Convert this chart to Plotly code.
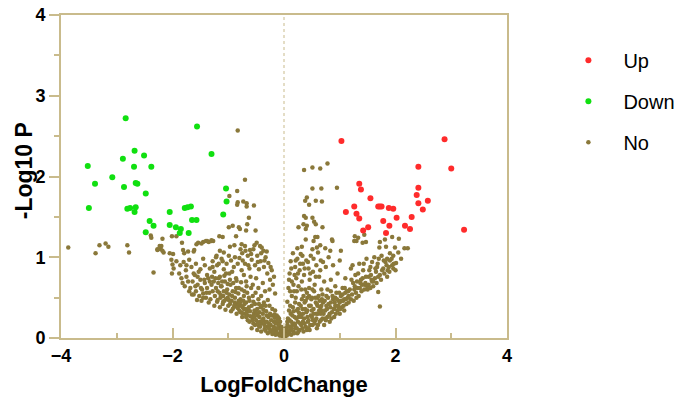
import plotly.graph_objects as go

# Up-regulated genes
up_x = [1.03, 2.88, 2.41, 3.00, 1.35, 1.38, 1.55, 2.41, 2.38, 2.58,
        2.41, 2.49, 1.26, 1.11, 1.30, 1.35, 1.69, 1.72, 1.75, 1.88,
        1.96, 1.78, 1.89, 2.02, 2.17, 2.26, 2.29, 1.83, 1.42, 1.51, 3.23]
up_y = [2.44, 2.46, 2.12, 2.10, 1.91, 1.84, 1.73, 1.86, 1.77, 1.70,
        1.67, 1.59, 1.63, 1.56, 1.54, 1.48, 1.63, 1.63, 1.63, 1.61,
        1.60, 1.45, 1.39, 1.49, 1.39, 1.35, 1.50, 1.30, 1.33, 1.37, 1.34]

# Down-regulated genes
down_x = [-3.52, -3.39, -3.50, -3.08, -2.84, -2.89, -2.87, -2.68, -2.69, -2.66,
          -2.63, -2.81, -2.76, -2.66, -2.68, -2.51, -2.48, -2.48, -2.38, -2.41,
          -2.34, -2.05, -2.05, -1.94, -1.85, -1.87, -1.78, -1.73, -1.67, -1.65,
          -1.57, -1.71, -1.56, -1.30, -1.04, -1.03, -1.09]
down_y = [2.13, 1.91, 1.61, 1.99, 2.72, 2.22, 1.87, 2.32, 2.12, 1.92,
          1.91, 1.60, 1.61, 1.62, 1.56, 2.26, 1.79, 1.31, 2.12, 1.45,
          1.39, 1.56, 1.40, 1.37, 1.35, 1.30, 1.61, 1.62, 1.63, 1.46,
          1.46, 1.30, 2.62, 2.28, 1.85, 1.69, 1.53]

# Not significant genes
no_x = [
    # left outliers / sparse
    -3.87, -3.31, -3.20, -3.15, -3.38, -2.81, -2.78, -2.34, -2.39, -2.38,
    -2.18, -2.27, -2.21, -2.20, -2.16, -0.83, -0.70, -0.84, -0.98, -0.83,
    -0.73, -0.67, -0.84, -0.67, -0.54, -0.63, -0.66, -0.81, -0.79, -0.99,
    -0.92, -0.68, -0.51, -0.86, -1.16, -1.30, -1.27, -1.38, -1.45, -1.54,
    -1.57, -1.48, -1.83, -2.01, -1.93, -2.23, -2.27, -2.18, -2.05, -1.99,
    -1.81, -1.79, -1.72, -1.61, -0.97, -0.89, -0.76, -0.70, -0.61, -0.49,
    -0.43, -0.37, -1.15, -1.08, -1.21, -1.40, -1.35, -1.30, -1.62, -1.10,
    # left upper band
    -2.02, -2.00, -1.98, -2.01, -1.93, -1.86, -1.80, -1.76, -1.70, -1.66,
    -1.62, -1.58, -1.55, -1.50, -1.45, -1.42, -1.38, -1.33, -1.28, -1.25,
    -1.20, -1.15, -1.12, -1.08, -1.03, -0.98, -0.95, -0.90, -0.86, -0.80,
    -0.75, -0.70, -0.65, -0.62, -0.58, -0.55, -0.52, -0.48, -0.45, -0.42,
    -0.40, -0.36, -0.33, -0.30, -0.28, -0.25, -0.22, -0.20, -0.18, -0.76,
    -0.72, -0.68, -0.60, -0.56, -0.50, -0.46, -0.38, -0.34, -0.26, -0.16,
    # left dense arm
    -1.58, -1.55, -1.52, -1.50, -1.47, -1.45, -1.42, -1.40, -1.38, -1.36,
    -1.34, -1.32, -1.30, -1.28, -1.26, -1.24, -1.22, -1.20, -1.18, -1.16,
    -1.14, -1.12, -1.10, -1.08, -1.06, -1.04, -1.02, -1.00, -0.98, -0.96,
    -0.94, -0.92, -0.90, -0.88, -0.86, -0.84, -0.82, -0.80, -0.78, -0.76,
    -0.74, -0.72, -0.70, -0.68, -0.66, -0.64, -0.62, -0.60, -0.58, -0.56,
    -0.54, -0.52, -0.50, -0.48, -0.46, -0.44, -0.42, -0.40, -0.38, -0.36,
    -0.34, -0.32, -0.30, -0.28, -0.26, -0.24, -0.22, -0.20, -0.18, -0.16,
    -0.14, -0.12, -0.10, -0.08, -0.06, -0.04, -0.02, -0.11, -0.07, -0.05,
    -1.48, -1.25, -1.05, -0.85, -0.65, -0.45, -0.25, -0.15, -0.35, -0.55,
    -0.75, -0.95, -1.15, -1.35, -1.62, -1.68, -1.72, -1.78, -1.84, -1.60,
    -0.58, -0.52, -0.48, -0.43, -0.41, -0.37, -0.33, -0.31, -0.29, -0.27,
    -0.23, -0.21, -0.19, -0.17, -0.15, -0.13, -0.09, -0.03, -0.01, -0.06,
    -0.62, -0.68, -0.72, -0.78, -0.82, -0.88, -0.92, -0.97, -1.01, -1.07,
    -0.44, -0.39, -0.47, -0.53, -0.57, -0.63, -0.67, -0.71, -0.77, -0.81,
    # left core, extra
    -1.19, -1.17, -1.13, -1.11, -1.09, -1.07, -1.03, -1.01, -0.99, -0.97,
    -0.93, -0.91, -0.89, -0.87, -0.85, -0.83, -0.81, -0.79, -0.77, -0.75,
    -0.73, -0.71, -0.69, -0.67, -0.65, -0.63, -0.61, -0.59, -0.57, -0.55,
    -0.53, -0.51, -0.49, -0.47, -0.45, -0.43, -0.41, -0.39, -0.37, -0.35,
    -0.33, -0.31, -0.29, -0.27, -0.25, -0.23, -0.21, -0.19, -0.17, -0.15,
    -0.13, -0.11, -0.09, -0.07, -0.05, -0.03, -0.02, -0.04, -0.08, -0.12,
    -1.28, -1.22, -1.17, -1.10, -1.04, -0.99, -0.93, -0.88, -0.83, -0.78,
    -0.74, -0.69, -0.64, -0.59, -0.53, -0.47, -0.41, -0.35, -0.31, -0.24,
    -1.88, -1.82, -1.75, -1.70, -1.64, -1.59, -1.53, -1.49, -1.43, -1.39,
    -1.33, -1.29, -1.23, -1.19, -1.13, -1.09, -1.45, -1.65, -1.75, -1.56,
    # right sparse / upper
    0.36, 0.51, 0.65, 0.78, 0.51, 0.67, 0.95, 0.41, 0.38, 0.45,
    0.57, 0.68, 0.36, 0.39, 0.35, 0.41, 0.39, 0.26, 0.51, 0.54,
    0.57, 0.69, 0.56, 0.60, 0.53, 0.65, 0.59, 0.51, 0.39, 0.32,
    0.24, 0.86, 0.87, 0.74, 0.83, 1.02, 1.27, 1.30, 1.26, 1.41,
    1.47, 1.44, 1.33, 1.72, 1.71, 1.83, 1.99, 2.06, 1.94, 2.16,
    2.22, 2.01, 1.72, 1.69, 1.81, 1.96, 1.90, 2.10, 2.05, 1.85,
    # right inner arm
    0.08, 0.10, 0.12, 0.14, 0.16, 0.18, 0.20, 0.22, 0.24, 0.26,
    0.28, 0.30, 0.32, 0.34, 0.36, 0.38, 0.40, 0.42, 0.44, 0.46,
    0.48, 0.50, 0.52, 0.55, 0.58, 0.60, 0.63, 0.66, 0.68, 0.72,
    0.75, 0.78, 0.80, 0.84, 0.88, 0.92, 0.96, 1.00, 0.14, 0.06,
    # right outer arm
    1.05, 1.10, 1.15, 1.20, 1.24, 1.28, 1.32, 1.35, 1.38, 1.42,
    1.45, 1.48, 1.52, 1.55, 1.58, 1.62, 1.65, 1.68, 1.72, 1.75,
    1.78, 1.82, 1.86, 1.90, 1.94, 2.00, 1.30, 1.50, 1.60, 1.85,
    # right dense body
    0.02, 0.04, 0.05, 0.07, 0.08, 0.10, 0.11, 0.12, 0.13, 0.15,
    0.16, 0.17, 0.19, 0.20, 0.21, 0.23, 0.24, 0.25, 0.27, 0.28,
    0.29, 0.31, 0.32, 0.33, 0.35, 0.36, 0.37, 0.39, 0.40, 0.41,
    0.43, 0.45, 0.46, 0.48, 0.49, 0.51, 0.53, 0.54, 0.56, 0.57,
    0.59, 0.61, 0.62, 0.64, 0.65, 0.67, 0.69, 0.70, 0.72, 0.74,
    0.76, 0.78, 0.80, 0.82, 0.84, 0.86, 0.88, 0.90, 0.92, 0.94,
    0.96, 0.98, 1.00, 1.02, 1.04, 1.06, 1.08, 1.10, 1.12, 1.14,
    1.16, 1.18, 1.20, 1.22, 1.25, 1.27, 1.29, 1.31, 1.34, 1.36,
    1.39, 1.41, 1.44, 1.46, 1.49, 1.52, 1.55, 1.57, 1.60, 1.63,
    1.66, 1.69, 1.74, 1.80, 1.88, 1.96, 0.03, 0.06, 0.09, 0.18,
    0.26, 0.34, 0.42, 0.50, 0.58, 0.66, 0.74, 0.82, 0.90, 0.98,
    0.44, 0.52, 0.60, 0.68, 0.76, 0.84, 0.92, 1.00, 1.08, 1.16,
    # right core, extra
    0.01, 0.03, 0.05, 0.06, 0.07, 0.09, 0.10, 0.11, 0.13, 0.14,
    0.15, 0.17, 0.18, 0.20, 0.21, 0.22, 0.23, 0.25, 0.26, 0.27,
    0.29, 0.30, 0.31, 0.33, 0.34, 0.35, 0.37, 0.38, 0.39, 0.41,
    0.42, 0.44, 0.45, 0.47, 0.48, 0.50, 0.51, 0.53, 0.55, 0.56,
    0.58, 0.59, 0.61, 0.63, 0.64, 0.66, 0.67, 0.69, 0.71, 0.73,
    0.75, 0.77, 0.79, 0.81, 0.83, 0.85, 0.87, 0.89, 0.91, 0.93,
    0.95, 0.97, 0.99, 1.01, 1.03, 1.05, 1.07, 1.09, 1.11, 1.13,
    0.09, 0.13, 0.17, 0.21, 0.25, 0.29, 0.33, 0.37, 0.43, 0.47,
    0.53, 0.57, 0.61, 0.65, 0.70, 0.31, 0.23, 0.19, 0.11, 0.45,
    1.21, 1.26, 1.33, 1.37, 1.43, 1.47, 1.53, 1.58, 1.64, 1.70,
    1.76, 1.79, 1.84, 1.89, 1.93, 1.97, 1.23, 1.40, 1.56, 1.67,
]
no_y = [
    1.12, 1.15, 1.17, 1.13, 1.05, 1.15, 1.06, 0.81, 1.27, 1.24,
    1.23, 1.10, 1.10, 1.14, 1.06, 2.57, 1.96, 1.82, 1.76, 1.68,
    1.69, 1.67, 1.65, 1.63, 1.64, 1.49, 1.41, 1.37, 1.35, 1.37,
    1.39, 1.33, 1.33, 1.26, 1.26, 1.21, 1.20, 1.20, 1.19, 1.18,
    1.16, 1.17, 1.18, 1.26, 1.26, 1.14, 1.09, 1.08, 1.05, 1.04,
    1.09, 1.05, 1.07, 1.09, 1.13, 1.15, 1.16, 1.14, 1.09, 1.18,
    1.14, 1.08, 1.08, 1.06, 1.02, 1.20, 1.19, 1.20, 1.07, 1.25,
    0.97, 0.91, 0.86, 0.80, 0.95, 0.90, 0.94, 0.84, 0.97, 0.88,
    0.80, 0.92, 0.76, 0.85, 0.98, 0.90, 0.78, 0.86, 0.95, 0.82,
    0.90, 0.76, 0.98, 0.85, 0.92, 0.80, 0.96, 0.88, 0.74, 0.99,
    1.05, 0.92, 1.02, 0.86, 0.97, 1.10, 0.90, 1.02, 0.85, 0.95,
    1.12, 0.88, 1.00, 0.80, 0.93, 0.72, 0.84, 0.66, 0.76, 0.84,
    0.78, 0.70, 0.76, 0.66, 0.74, 0.62, 0.68, 0.58, 0.60, 0.55,
    0.58, 0.66, 0.52, 0.72, 0.60, 0.55, 0.68, 0.50, 0.62, 0.74,
    0.56, 0.48, 0.66, 0.58, 0.70, 0.52, 0.62, 0.45, 0.68, 0.56,
    0.50, 0.64, 0.42, 0.58, 0.70, 0.48, 0.60, 0.40, 0.54, 0.66,
    0.46, 0.58, 0.38, 0.50, 0.62, 0.42, 0.55, 0.34, 0.48, 0.60,
    0.38, 0.52, 0.30, 0.44, 0.56, 0.34, 0.46, 0.27, 0.40, 0.52,
    0.30, 0.42, 0.22, 0.36, 0.48, 0.26, 0.38, 0.18, 0.30, 0.44,
    0.20, 0.33, 0.14, 0.26, 0.40, 0.16, 0.28, 0.10, 0.20, 0.34,
    0.08, 0.18, 0.05, 0.12, 0.03, 0.07, 0.02, 0.26, 0.20, 0.14,
    0.46, 0.40, 0.35, 0.30, 0.22, 0.15, 0.08, 0.04, 0.11, 0.18,
    0.26, 0.33, 0.38, 0.44, 0.54, 0.62, 0.70, 0.64, 0.74, 0.78,
    0.12, 0.16, 0.10, 0.20, 0.08, 0.24, 0.09, 0.28, 0.06, 0.18,
    0.22, 0.05, 0.14, 0.25, 0.12, 0.28, 0.16, 0.04, 0.01, 0.09,
    0.20, 0.26, 0.36, 0.32, 0.40, 0.44, 0.36, 0.42, 0.50, 0.46,
    0.32, 0.40, 0.28, 0.34, 0.26, 0.38, 0.32, 0.42, 0.40, 0.46,
    0.47, 0.74, 0.53, 0.70, 0.45, 0.77, 0.56, 0.67, 0.47, 0.72,
    0.52, 0.68, 0.41, 0.57, 0.71, 0.37, 0.62, 0.44, 0.69, 0.31,
    0.46, 0.58, 0.36, 0.64, 0.28, 0.50, 0.33, 0.62, 0.22, 0.45,
    0.26, 0.56, 0.31, 0.19, 0.42, 0.14, 0.52, 0.22, 0.35, 0.16,
    0.40, 0.20, 0.47, 0.12, 0.30, 0.09, 0.36, 0.08, 0.29, 0.18,
    0.06, 0.12, 0.24, 0.05, 0.04, 0.09, 0.05, 0.12, 0.03, 0.22,
    0.88, 1.00, 0.92, 0.95, 0.80, 1.02, 0.82, 1.00, 0.92, 1.10,
    0.96, 1.08, 0.90, 1.04, 1.15, 0.94, 1.05, 0.96, 1.07, 0.88,
    0.80, 0.68, 0.76, 0.58, 0.70, 0.64, 0.82, 0.62, 0.72, 0.56,
    0.70, 0.76, 0.74, 0.58, 0.64, 0.52, 0.50, 0.54, 0.90, 0.47,
    2.08, 2.11, 2.10, 2.16, 1.85, 1.85, 1.86, 1.74, 1.70, 1.65,
    1.70, 1.69, 1.51, 1.49, 1.41, 1.39, 1.35, 1.37, 1.49, 1.44,
    1.41, 1.37, 1.25, 1.25, 1.20, 1.15, 1.12, 1.10, 1.22, 1.13,
    1.11, 1.22, 1.20, 1.11, 1.08, 1.08, 1.26, 1.20, 1.20, 1.18,
    1.19, 1.28, 1.24, 1.19, 1.12, 1.13, 1.12, 1.23, 1.25, 1.11,
    1.11, 0.93, 0.39, 0.57, 1.22, 1.02, 1.05, 0.98, 1.06, 0.98,
    0.62, 0.80, 0.95, 0.70, 1.05, 0.58, 0.88, 0.74, 0.98, 0.64,
    0.84, 1.04, 0.70, 0.92, 0.78, 0.60, 0.96, 0.50, 0.86, 0.72,
    1.02, 0.50, 0.82, 0.66, 0.90, 0.50, 0.76, 0.96, 0.48, 0.70,
    0.88, 0.60, 1.00, 0.72, 0.90, 0.64, 0.80, 0.96, 0.52, 0.45,
    0.62, 0.74, 0.58, 0.86, 0.68, 0.78, 0.62, 0.92, 0.72, 0.84,
    0.66, 0.98, 0.76, 0.88, 0.70, 1.00, 0.82, 0.92, 0.78, 1.02,
    0.86, 0.94, 0.84, 0.96, 0.90, 0.84, 0.50, 0.60, 0.64, 0.76,
    0.02, 0.08, 0.03, 0.14, 0.05, 0.22, 0.09, 0.30, 0.04, 0.16,
    0.38, 0.08, 0.26, 0.44, 0.12, 0.34, 0.06, 0.20, 0.42, 0.10,
    0.28, 0.16, 0.48, 0.36, 0.08, 0.24, 0.44, 0.14, 0.32, 0.56,
    0.20, 0.40, 0.10, 0.28, 0.48, 0.16, 0.36, 0.58, 0.22, 0.44,
    0.12, 0.30, 0.52, 0.20, 0.38, 0.60, 0.24, 0.44, 0.16, 0.34,
    0.52, 0.26, 0.42, 0.20, 0.58, 0.32, 0.48, 0.26, 0.40, 0.56,
    0.34, 0.46, 0.30, 0.52, 0.38, 0.46, 0.34, 0.56, 0.42, 0.50,
    0.44, 0.60, 0.48, 0.54, 0.46, 0.64, 0.56, 0.70, 0.52, 0.62,
    0.58, 0.74, 0.60, 0.68, 0.64, 0.66, 0.62, 0.72, 0.70, 0.74,
    0.68, 0.76, 0.72, 0.80, 0.88, 0.86, 0.12, 0.20, 0.34, 0.18,
    0.26, 0.20, 0.26, 0.34, 0.30, 0.30, 0.24, 0.30, 0.36, 0.38,
    0.12, 0.22, 0.40, 0.34, 0.40, 0.44, 0.50, 0.44, 0.48, 0.52,
    0.05, 0.04, 0.10, 0.16, 0.24, 0.08, 0.14, 0.40, 0.20, 0.12,
    0.28, 0.33, 0.06, 0.16, 0.50, 0.24, 0.12, 0.36, 0.08, 0.31,
    0.18, 0.40, 0.26, 0.12, 0.30, 0.52, 0.18, 0.36, 0.46, 0.10,
    0.34, 0.22, 0.52, 0.16, 0.40, 0.26, 0.60, 0.30, 0.18, 0.50,
    0.24, 0.42, 0.16, 0.34, 0.46, 0.22, 0.40, 0.54, 0.30, 0.46,
    0.22, 0.36, 0.50, 0.28, 0.38, 0.24, 0.52, 0.36, 0.44, 0.30,
    0.48, 0.40, 0.56, 0.36, 0.46, 0.54, 0.40, 0.62, 0.48, 0.58,
    0.72, 0.86, 0.66, 0.96, 0.80, 0.92, 1.02, 0.86, 0.94, 0.80,
    0.98, 0.76, 1.06, 0.84, 0.94, 0.60, 0.58, 0.78, 0.58, 0.62,
    0.72, 0.60, 0.80, 0.68, 0.92, 0.76, 0.84, 0.94, 0.86, 0.98,
    0.84, 0.96, 0.90, 0.82, 0.98, 0.92, 0.90, 0.66, 0.78, 0.88,
]

AXIS_COLOR = "#c9bb8c"
FONT = "Arial, Liberation Sans, sans-serif"
TITLE_FONT = dict(family=FONT, size=22, color="black", weight="bold")

fig = go.Figure()

fig.add_trace(go.Scatter(
    x=no_x, y=no_y, mode="markers", name="No",
    marker=dict(color="#8a783a", size=4.5),
    legendgroup="no", legendrank=3,
))
fig.add_trace(go.Scatter(
    x=down_x, y=down_y, mode="markers", name="Down",
    marker=dict(color="#10e010", size=6),
    legendgroup="down", legendrank=2,
))
fig.add_trace(go.Scatter(
    x=up_x, y=up_y, mode="markers", name="Up",
    marker=dict(color="#ff2b2b", size=6),
    legendgroup="up", legendrank=1,
))

# dotted reference line at x = 0
fig.add_shape(
    type="line", x0=0, x1=0, y0=0, y1=4, xref="x", yref="y",
    line=dict(color=AXIS_COLOR, width=1, dash="dot"), layer="below",
)

# y title as an annotation so it can sit close to the left edge
fig.add_annotation(
    text="-Log10 P", textangle=-90, showarrow=False,
    xref="paper", yref="paper", x=-0.116, y=0.517,
    xanchor="left", yanchor="middle",
    font=dict(TITLE_FONT, size=23),
)

axis_common = dict(
    showgrid=False, zeroline=False, automargin=False,
    showline=True, linecolor=AXIS_COLOR, linewidth=2, mirror=True,
    tickwidth=2, tickcolor=AXIS_COLOR, ticklabeloverflow="allow",
    tickfont=dict(family=FONT, size=18, color="black", weight="bold"),
)

# the page body adds an 8px offset; margins compensate for it
fig.update_layout(
    width=685,
    height=396,
    plot_bgcolor="white",
    paper_bgcolor="white",
    margin=dict(l=53, r=186, t=7, b=66),
    xaxis=dict(
        range=[-4, 4], tickvals=[-4, -2, 0, 2, 4],
        ticks="inside", ticklen=10,
        minor=dict(dtick=1, ticklen=5, tickwidth=2, tickcolor=AXIS_COLOR, ticks="inside"),
        title=dict(text="LogFoldChange", standoff=12, font=TITLE_FONT),
        **axis_common,
    ),
    yaxis=dict(
        range=[0, 4], tickvals=[0, 1, 2, 3, 4],
        ticks="outside", ticklen=10,
        minor=dict(dtick=0.5, ticklen=5, tickwidth=2, tickcolor=AXIS_COLOR, ticks="outside"),
        **axis_common,
    ),
    legend=dict(
        x=1.104, y=0.92, xanchor="left", yanchor="top",
        font=dict(family=FONT, size=20, color="black"),
        tracegroupgap=12, itemwidth=60,
        bgcolor="rgba(0,0,0,0)",
    ),
    showlegend=True,
)

fig.write_html("out.html")
